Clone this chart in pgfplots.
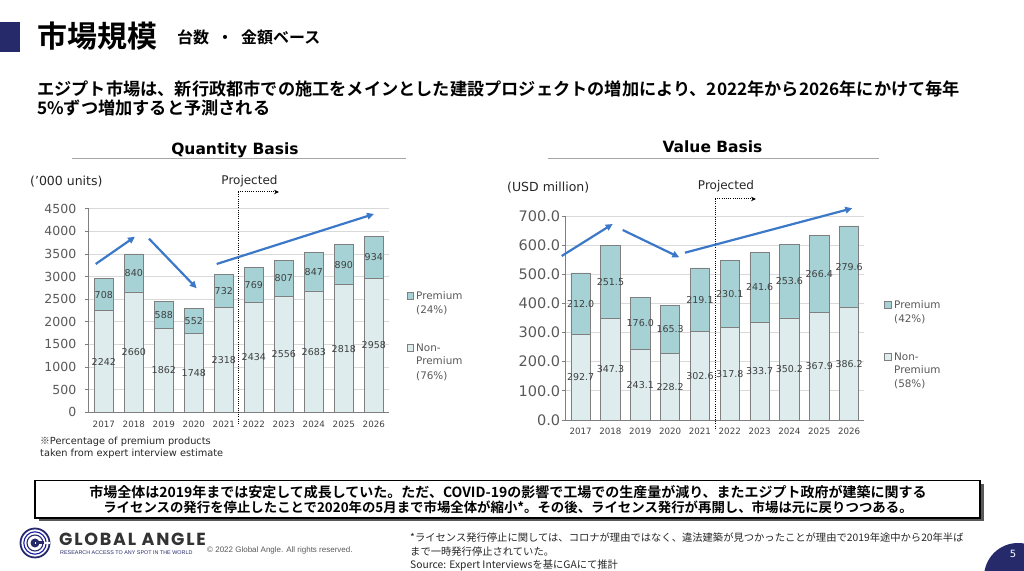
\documentclass[border=0pt]{standalone}
\usepackage{pgfplots}
\pgfplotsset{compat=1.18}
\usepackage{pgfplotstable}
\usepackage{fontspec}
\setmainfont{DejaVu Sans}
\newfontfamily\jp{Noto Sans CJK JP}[BoldFont={Noto Sans CJK JP Bold}]
\newfontfamily\logofont{Poppins}[LetterSpace=10]
\newfontfamily\arial{Liberation Sans}
\usetikzlibrary{arrows.meta}
\definecolor{navy}{HTML}{262A6B}
\definecolor{prem}{HTML}{A6D2D5}
\definecolor{nonprem}{HTML}{DEECED}
\definecolor{barline}{HTML}{7F7F7F}
\definecolor{tickgray}{HTML}{595959}
\definecolor{labgray}{HTML}{404040}
\definecolor{arrowblue}{HTML}{3C78C8}
\definecolor{gridgray}{HTML}{D9D9D9}

\pgfplotstableread{
x year np p
0 2017 2242 708
1 2018 2660 840
2 2019 1862 588
3 2020 1748 552
4 2021 2318 732
5 2022 2434 769
6 2023 2556 807
7 2024 2683 847
8 2025 2818 890
9 2026 2958 934
}\qdata

\pgfplotstableread{
x year np p
0 2017 292.7 212.0
1 2018 347.3 251.5
2 2019 243.1 176.0
3 2020 228.2 165.3
4 2021 302.6 219.1
5 2022 317.8 230.1
6 2023 333.7 241.6
7 2024 350.2 253.6
8 2025 367.9 266.4
9 2026 386.2 279.6
}\vdata

\pgfplotsset{
  slidebar/.style={
    scale only axis, ybar stacked, bar width=0.65,
    xmin=-0.5, xmax=9.5, ymin=0,
    axis x line*=bottom, axis y line*=left,
    axis line style={draw=barline, line width=0.8bp, -},
    xtick={0,...,9},
    xticklabels={2017,2018,2019,2020,2021,2022,2023,2024,2025,2026},
    x tick label style={font=\fontsize{8.7bp}{10bp}\selectfont, text=labgray, yshift=-1bp},
    xtick style={draw=none},
    ytick style={draw=barline, line width=0.8bp},
    tick align=outside, major tick length=4bp,
    ymajorgrids, grid style={draw=gridgray, line width=0.8bp},
    /pgf/number format/assume math mode=true,
    clip=false,
  },
  overlay/.style={
    scale only axis, xmin=-0.5, xmax=9.5, ymin=0, hide axis, clip=false,
  },
  lbl/.style={draw=none, mark=none, forget plot, nodes near coords, point meta=explicit symbolic,
    every node near coord/.append style={anchor=center, inner sep=0pt,
      font=\fontsize{9.5bp}{11bp}\selectfont, text=labgray}},
}

\begin{document}
\begin{tikzpicture}[x=1bp, y=1bp]
\path[use as bounding box] (0,0) rectangle (1024,571);
\clip (0,0) rectangle (1024,571);

% ---------- header ----------
\fill[navy] (0,519) rectangle (20,549);
\node[anchor=west, inner sep=0pt] at (37,535.3) {\jp\bfseries\fontsize{30bp}{32bp}\selectfont 市場規模};
\node[anchor=west, inner sep=0pt] at (177,533.5) {\jp\bfseries\fontsize{16bp}{18bp}\selectfont 台数\hspace{0.5em}・\hspace{0.5em}金額ベース};
\node[anchor=west, inner sep=0pt] at (37,482) {\jp\bfseries\fontsize{17.2bp}{20bp}\selectfont エジプト市場は、新行政都市での施工をメインとした建設プロジェクトの増加により、2022年から2026年にかけて毎年};
\node[anchor=west, inner sep=0pt] at (37,463.5) {\jp\bfseries\fontsize{17.2bp}{20bp}\selectfont 5\%ずつ増加すると予測される};

% ---------- Quantity chart ----------
\node[inner sep=0pt] at (235,421) {\bfseries\fontsize{15.5bp}{17bp}\selectfont Quantity Basis};
\draw[gray!70, line width=1bp] (72,412) -- (405.7,412);
\node[anchor=west, inner sep=0pt, text=black!85] at (30,389.3) {\fontsize{12.5bp}{14bp}\selectfont ('000 units)};
\node[inner sep=0pt, text=black!85] at (249.5,390.3) {\fontsize{12bp}{14bp}\selectfont Projected};

\begin{axis}[slidebar, at={(88.8bp,158.7bp)}, anchor=south west, width=300bp, height=203.6bp,
  ymax=4500, ytick={0,500,...,4500},
  y tick label style={font=\fontsize{12.5bp}{14bp}\selectfont, text=tickgray, xshift=-5bp},
  /pgf/number format/1000 sep={}]
\addplot[fill=nonprem, draw=barline, line width=0.8bp] table[x=x, y=np] {\qdata};
\addplot[fill=prem, draw=barline, line width=0.8bp] table[x=x, y=p] {\qdata};
\end{axis}
\begin{axis}[overlay, at={(88.8bp,158.7bp)}, anchor=south west, width=300bp, height=203.6bp, ymax=4500]
\addplot[lbl] table[x=x, y expr=\thisrow{np}/2, meta=np] {\qdata};
\addplot[lbl] table[x=x, y expr=\thisrow{np}+\thisrow{p}/2, meta=p] {\qdata};
\end{axis}

\draw[black, line width=1bp, dash pattern=on 1bp off 1.2bp] (238,379) -- (238,146);
\draw[black, line width=1bp, dash pattern=on 1bp off 1.2bp, -{Stealth[length=5bp,width=4.5bp]}] (238,379) -- (279,379);

\draw[arrowblue, line width=2.2bp, -{Triangle[length=7bp,width=6.5bp]}] (95.7,307) -- (135,334.3);
\draw[arrowblue, line width=2.2bp, -{Triangle[length=7bp,width=6.5bp]}] (149,332.3) -- (196.7,282.7);
\draw[arrowblue, line width=2.2bp, -{Triangle[length=7bp,width=6.5bp]}] (216.7,307) -- (374,357);

% legend Q
\filldraw[fill=prem, draw=barline, line width=0.6bp] (407,272) rectangle (413.5,278.5);
\filldraw[fill=nonprem, draw=barline, line width=0.6bp] (407,220) rectangle (413.5,226.5);
\begin{scope}[every node/.style={anchor=west, inner sep=0pt, text=tickgray, font=\fontsize{10.4bp}{12bp}\selectfont}]
\node at (416,275.3) {Premium};
\node at (416,261) {(24\%)};
\node at (416,223.3) {Non-};
\node at (416,210) {Premium};
\node at (416,195) {(76\%)};
\end{scope}

\node[anchor=west, inner sep=0pt, text=black!85] at (40,129.3) {\fontsize{9.8bp}{12bp}\selectfont {\jp ※}Percentage of premium products};
\node[anchor=west, inner sep=0pt, text=black!85] at (40,117) {\fontsize{9.8bp}{12bp}\selectfont taken from expert interview estimate};

% ---------- Value chart ----------
\node[inner sep=0pt] at (712.5,424) {\bfseries\fontsize{15.5bp}{17bp}\selectfont Value Basis};
\draw[gray!70, line width=1bp] (547.7,412) -- (879,412);
\node[anchor=west, inner sep=0pt, text=black!85] at (507,383.7) {\fontsize{12.5bp}{14bp}\selectfont (USD million)};
\node[inner sep=0pt, text=black!85] at (726,385) {\fontsize{12bp}{14bp}\selectfont Projected};

\begin{axis}[slidebar, at={(565.7bp,151bp)}, anchor=south west, width=298.3bp, height=204bp,
  ymax=700, ytick={0,100,...,700},
  y tick label style={font=\fontsize{14.5bp}{16bp}\selectfont, text=tickgray, xshift=2bp},
  yticklabel style={/pgf/number format/.cd, fixed, fixed zerofill, precision=1}]
\addplot[fill=nonprem, draw=barline, line width=0.8bp] table[x=x, y=np] {\vdata};
\addplot[fill=prem, draw=barline, line width=0.8bp] table[x=x, y=p] {\vdata};
\end{axis}
\begin{axis}[overlay, at={(565.7bp,151bp)}, anchor=south west, width=298.3bp, height=204bp, ymax=700]
\addplot[lbl] table[x=x, y expr=\thisrow{np}/2, meta=np] {\vdata};
\addplot[lbl] table[x=x, y expr=\thisrow{np}+\thisrow{p}/2, meta=p] {\vdata};
\end{axis}

\draw[black, line width=1bp, dash pattern=on 1bp off 1.2bp] (715,372) -- (715,141);
\draw[black, line width=1bp, dash pattern=on 1bp off 1.2bp, -{Stealth[length=5bp,width=4.5bp]}] (715,372) -- (756,372);

\draw[arrowblue, line width=2.2bp, -{Triangle[length=7bp,width=6.5bp]}] (561.7,315) -- (612.7,347);
\draw[arrowblue, line width=2.2bp, -{Triangle[length=7bp,width=6.5bp]}] (622.7,341) -- (679.3,313.7);
\draw[arrowblue, line width=2.2bp, -{Triangle[length=7bp,width=6.5bp]}] (685,318.3) -- (852.3,362.7);

% legend V
\filldraw[fill=prem, draw=barline, line width=0.6bp] (884.5,262.7) rectangle (891,269.2);
\filldraw[fill=nonprem, draw=barline, line width=0.6bp] (884.5,211) rectangle (891,217.5);
\begin{scope}[every node/.style={anchor=west, inner sep=0pt, text=tickgray, font=\fontsize{10.4bp}{12bp}\selectfont}]
\node at (894,266) {Premium};
\node at (894,251.7) {(42\%)};
\node at (894,214.3) {Non-};
\node at (894,201) {Premium};
\node at (894,187) {(58\%)};
\end{scope}

% ---------- bottom box ----------
\fill[black!65] (38.5,49.5) rectangle (983.5,87);
\draw[fill=white, line width=1.2bp] (35,53) rectangle (980,90.3);
\node[inner sep=0pt] at (508,79.3) {\jp\bfseries\fontsize{14bp}{15bp}\selectfont 市場全体は2019年までは安定して成長していた。ただ、COVID-19の影響で工場での生産量が減り、またエジプト政府が建築に関する};
\node[inner sep=0pt] at (508,63.5) {\jp\bfseries\fontsize{13.4bp}{15bp}\selectfont ライセンスの発行を停止したことで2020年の5月まで市場全体が縮小*。その後、ライセンス発行が再開し、市場は元に戻りつつある。};

% ---------- footer ----------
\draw[navy, line width=1.8bp] (35,28) circle (14.5);
\draw[navy!60!blue, line width=1.1bp] (35,28) circle (11.2);
\draw[navy, line width=1.1bp] (35,28) circle (8);
\fill[navy] (35,28) circle (4.5);
\fill[white] (35,27) rectangle (50,29);
\fill[navy] (36,26.5) rectangle (44,29.5);
\node[anchor=west, inner sep=0pt, text=black!80] at (59,32) {\logofont\bfseries\fontsize{17.5bp}{19bp}\selectfont GLOBAL ANGLE};
\node[anchor=west, inner sep=0pt, text=navy] at (60,18.8) {\arial\fontsize{5.4bp}{6bp}\selectfont RESEARCH ACCESS TO ANY SPOT IN THE WORLD};
\node[anchor=west, inner sep=0pt, text=tickgray] at (207,21) {\arial\fontsize{8bp}{9bp}\selectfont © 2022 Global Angle. All rights reserved.};

\begin{scope}[every node/.style={anchor=west, inner sep=0pt, text=black!85, font=\jp\fontsize{10.3bp}{12bp}\selectfont}]
\node at (410,33.5) {*ライセンス発行停止に関しては、コロナが理由ではなく、違法建築が見つかったことが理由で2019年途中から20年半ば};
\node at (410,19.5) {まで一時発行停止されていた。};
\node at (410,5.5) {Source: Expert Interviewsを基にGAにて推計};
\end{scope}

\fill[navy] (1018,-6) circle (34);
\node[text=white, inner sep=0pt] at (1013,17) {\fontsize{10bp}{12bp}\selectfont 5};
\end{tikzpicture}
\end{document}
